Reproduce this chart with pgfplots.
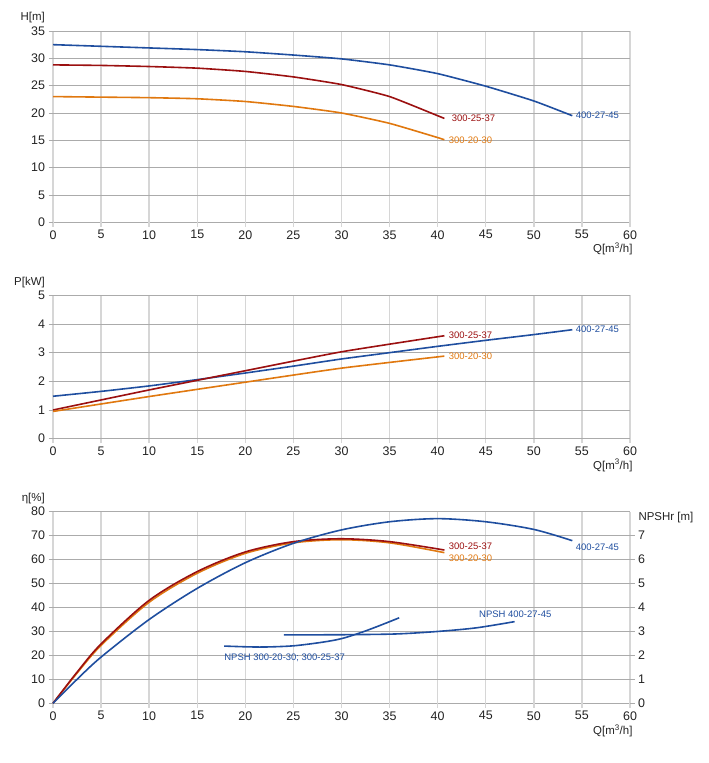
\documentclass[border=0pt]{standalone}
\usepackage{pgfplots}
\pgfplotsset{compat=1.18}
\usepackage{fontspec}
\setmainfont{Liberation Sans}
\definecolor{cblue}{HTML}{1F4E9F}
\definecolor{cred}{HTML}{9B1010}
\definecolor{corange}{HTML}{E0780F}
\definecolor{hgrid}{HTML}{ABABAB}
\definecolor{vgrid}{HTML}{D6D6D6}
\definecolor{txt}{HTML}{222222}
\newcommand\labfont{\fontsize{9.5}{11}\selectfont}
\newcommand\axfont{\fontsize{11.5}{13}\selectfont}
\pgfplotsset{
 base/.style={
  scale only axis, width=577bp,
  xmin=0, xmax=60, xtick={0,5,...,60},
  grid=major,
  x grid style={vgrid, line width=1.4bp},
  y grid style={hgrid, line width=0.8bp},
  axis line style={draw=none},
  tick align=outside,
  xtick pos=bottom, ytick pos=left,
  major tick length=4.5bp,
  x tick style={vgrid, line width=1.4bp},
  y tick style={hgrid, line width=0.8bp},
  tick label style={font=\fontsize{12.5}{14}\selectfont, text=txt},
  /pgf/number format/assume math mode=true,
  clip=false,
 },
 curve/.style={#1, line width=1.6bp, smooth},
 seg/.style={#1, line width=1.6bp, smooth, tension=0.3},
}
\begin{document}
\begin{tikzpicture}
\path[use as bounding box] (0,0) rectangle (709bp,763bp);
% ---------- H ----------
\begin{axis}[base, at={(53bp,540.7bp)}, anchor=south west, height=191.3bp,
  ymin=0, ymax=35, ytick={0,5,...,35}]
\addplot[seg=cblue] coordinates {(0,32.5)(5,32.2)(10,31.9)(15,31.6)(20,31.2)(25,30.6)(30,29.9)(35,28.8)(40,27.2)(45,24.9)(50,22.2)(54,19.5)};
\addplot[seg=cred] coordinates {(0,28.8)(5,28.7)(10,28.5)(15,28.2)(20,27.6)(25,26.6)(30,25.2)(35,23.0)(40,19.5)(40.7,19.0)};
\addplot[seg=corange] coordinates {(0,23.0)(5,22.9)(10,22.8)(15,22.6)(20,22.1)(25,21.2)(30,20.0)(35,18.1)(40,15.5)(40.7,15.1)};
\node[anchor=west, text=cred, font=\labfont, xshift=4bp] at (axis cs:40.7,19.0) {300-25-37};
\node[anchor=west, text=corange, font=\labfont, xshift=1bp] at (axis cs:40.7,15.0) {300-20-30};
\node[anchor=west, text=cblue, font=\labfont, xshift=0bp] at (axis cs:54,19.5) {400-27-45};
\node[anchor=base east, text=txt, font=\axfont, xshift=-4.7bp, yshift=10bp] at (rel axis cs:0,1) {H[m]};
\node[anchor=base east, text=txt, font=\axfont, xshift=6bp, yshift=-30.5bp] at (rel axis cs:1,0) {Q[m\textsuperscript{3}/h]};
\end{axis}
% ---------- P ----------
\begin{axis}[base, at={(53bp,324.3bp)}, anchor=south west, height=143.4bp,
  ymin=0, ymax=5, ytick={0,1,...,5}]
\addplot[seg=cblue] coordinates {(0,1.48)(5,1.65)(10,1.84)(15,2.06)(20,2.29)(25,2.53)(30,2.78)(35,3.0)(40,3.22)(45,3.43)(50,3.63)(54,3.8)};
\addplot[seg=cred] coordinates {(0,1.0)(10,1.70)(20,2.37)(30,3.03)(40.7,3.59)};
\addplot[seg=corange] coordinates {(0,0.95)(10,1.47)(20,1.97)(30,2.46)(40.7,2.88)};
\node[anchor=west, text=cred, font=\labfont, xshift=1bp] at (axis cs:40.7,3.59) {300-25-37};
\node[anchor=west, text=corange, font=\labfont, xshift=1bp] at (axis cs:40.7,2.88) {300-20-30};
\node[anchor=west, text=cblue, font=\labfont, xshift=0bp] at (axis cs:54,3.8) {400-27-45};
\node[anchor=base east, text=txt, font=\axfont, xshift=-4.7bp, yshift=10bp] at (rel axis cs:0,1) {P[kW]};
\node[anchor=base east, text=txt, font=\axfont, xshift=6bp, yshift=-30.5bp] at (rel axis cs:1,0) {Q[m\textsuperscript{3}/h]};
\end{axis}
% ---------- eta ----------
\begin{axis}[base, at={(53bp,59.7bp)}, anchor=south west, height=191.6bp,
  ymin=0, ymax=80, ytick={0,10,...,80}]
\addplot[curve=corange] coordinates {(0,0)(2.5,12.6)(5,24.2)(10,42.2)(15,54.3)(20,62.6)(25,67)(30,68.3)(35,67)(40.7,62.9)};
\addplot[curve=cred] coordinates {(0,0)(2.5,13)(5,24.8)(10,43)(15,55)(20,63.2)(25,67.5)(30,68.7)(35,67.5)(40.7,64)};
\addplot[curve=cblue] coordinates {(0,0)(2.5,10)(5,19.3)(10,35)(15,48)(20,58.7)(25,66.8)(30,72.4)(35,75.8)(40,77.1)(45,75.8)(50,72.6)(54,67.9)};
\node[anchor=south west, text=cred, font=\labfont, xshift=1bp, yshift=-3bp] at (axis cs:40.7,64) {300-25-37};
\node[anchor=north west, text=corange, font=\labfont, xshift=1bp, yshift=1bp] at (axis cs:40.7,62.9) {300-20-30};
\node[anchor=north west, text=cblue, font=\labfont, xshift=0bp, yshift=0bp] at (axis cs:54,67.9) {400-27-45};
\node[anchor=base east, text=txt, font=\axfont, xshift=-4.7bp, yshift=10bp] at (rel axis cs:0,1) {η[\%]};
\node[anchor=base east, text=txt, font=\axfont, xshift=6bp, yshift=-31.5bp] at (rel axis cs:1,0) {Q[m\textsuperscript{3}/h]};
\end{axis}
\begin{axis}[scale only axis, width=577bp, height=191.6bp, at={(53bp,59.7bp)}, anchor=south west,
  xmin=0, xmax=60, ymin=0, ymax=8, ytick={0,1,...,7},
  axis x line=none, axis y line*=right, axis line style={draw=none},
  tick align=outside, major tick length=4.5bp,
  y tick style={hgrid, line width=0.8bp},
  tick label style={font=\fontsize{12.5}{14}\selectfont, text=txt},
  /pgf/number format/assume math mode=true, clip=false]
\addplot[curve=cblue] coordinates {(17.8,2.39)(20,2.36)(22,2.35)(25,2.4)(28,2.55)(30,2.7)(32,2.95)(34,3.25)(36,3.57)};
\addplot[curve=cblue] coordinates {(24,2.86)(28,2.86)(32,2.87)(36,2.9)(40,3.0)(44,3.15)(48,3.41)};
\node[anchor=west, text=cblue, font=\labfont, inner sep=0pt] at (axis cs:44.3,3.72) {NPSH 400-27-45};
\node[anchor=west, text=cblue, font=\labfont, inner sep=0pt] at (axis cs:17.8,1.91) {NPSH 300-20-30; 300-25-37};
\node[anchor=base west, text=txt, font=\axfont, xshift=5bp, yshift=-9bp] at (rel axis cs:1,1) {NPSHr [m]};
\end{axis}
\end{tikzpicture}
\end{document}
